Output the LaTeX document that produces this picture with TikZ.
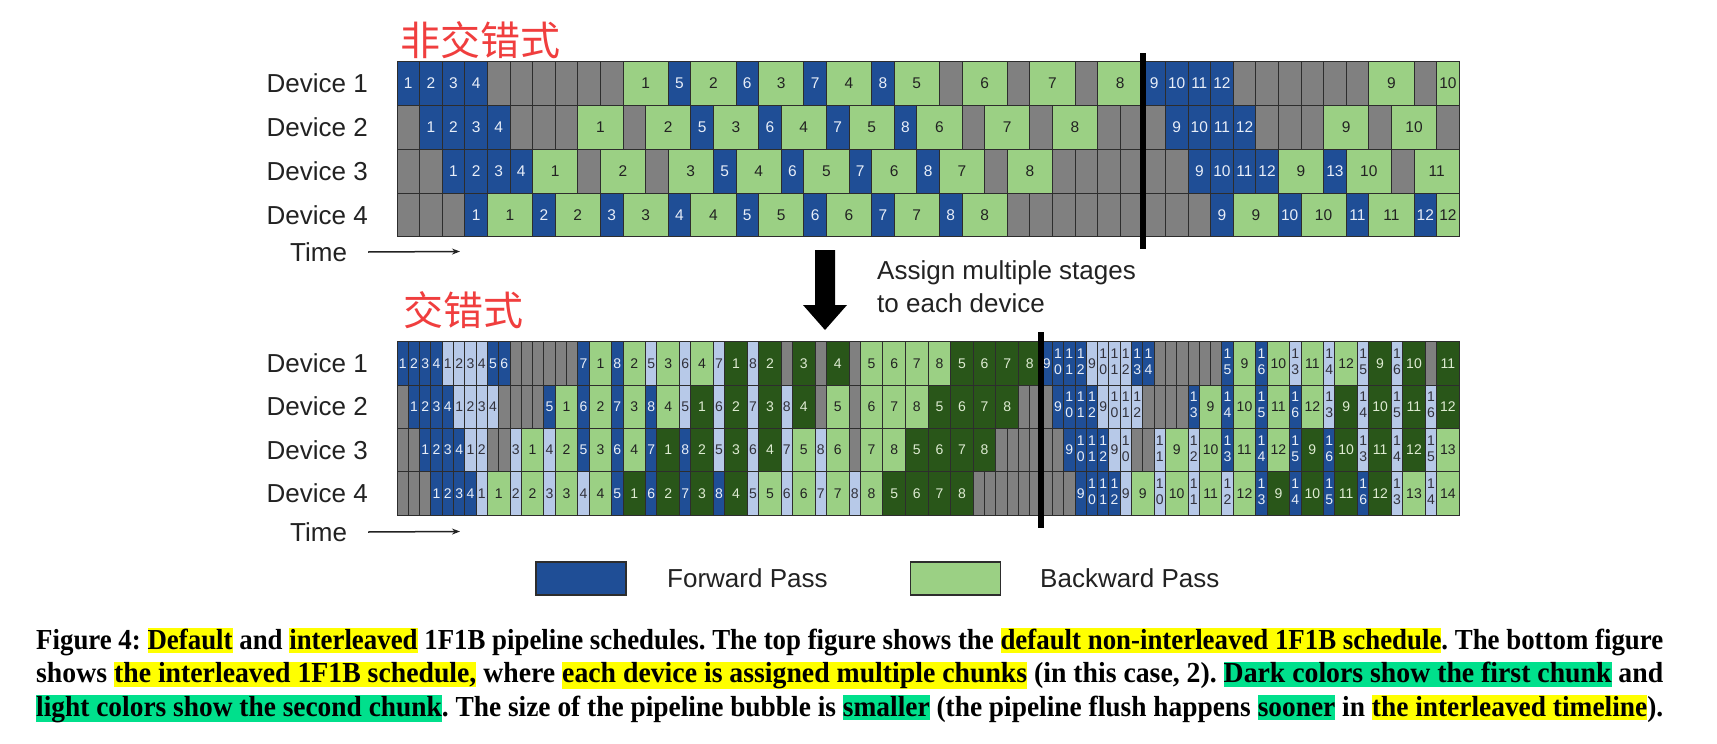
\documentclass[tikz,border=0pt]{standalone}
\usepackage{fontspec}
\setmainfont{Liberation Sans}
\newfontfamily\cjkfont{Noto Sans CJK SC}
\newfontfamily\capfont{Liberation Serif}
\usepackage{graphicx}
\usetikzlibrary{arrows.meta}
\frenchspacing

\definecolor{fblue}{RGB}{31,78,150}
\definecolor{lblue}{RGB}{183,201,232}
\definecolor{lgreen}{RGB}{155,208,132}
\definecolor{dgreen}{RGB}{41,86,25}
\definecolor{bgray}{RGB}{128,128,128}
\definecolor{cellline}{RGB}{45,45,45}
\definecolor{redlab}{RGB}{240,62,62}
\definecolor{hly}{RGB}{255,255,0}
\definecolor{hlg}{RGB}{0,224,140}
\definecolor{txtdark}{RGB}{34,34,34}
\definecolor{fbtext}{RGB}{232,238,248}
\definecolor{lbtext}{RGB}{50,50,60}
\definecolor{dgtext}{RGB}{222,235,210}

\newcommand\sk[2]{\raisebox{-2pt}{\begin{tabular}{@{}c@{}}#1\\#2\end{tabular}}}
\newcommand\hy[1]{{\setlength{\fboxsep}{0pt}\colorbox{hly}{\rule[-0.14em]{0pt}{0.86em}#1}}}
\newcommand\hg[1]{{\setlength{\fboxsep}{0pt}\colorbox{hlg}{\rule[-0.14em]{0pt}{0.86em}#1}}}

\makeatletter
\def\sch@g{g}
\tikzset{cellsel/.code={\edef\sch@tmp{cell-#1}\expandafter\pgfkeysalso\expandafter{\sch@tmp}}}
% #1 name, #2 x0, #3 ytop, #4 unit, #5 height, #6 font style, #7 list type/width/label
\newcommand\schedrow[7]{%
  \xdef\sch@x{#2}%
  \foreach \ctype/\cwid/\clab [count=\ci] in {#7} {%
    \pgfmathsetmacro\sch@ww{\cwid*#4}%
    \edef\sch@t{\ctype}%
    \ifx\sch@t\sch@g
      \foreach \kk in {1,...,\cwid} {%
        \pgfmathsetmacro\sch@kx{\sch@x+(\kk-1)*#4}%
        \node[cellsel=g, minimum width=#4pt, minimum height=#5pt] (#1-\ci-\kk) at (\sch@kx,#3) {};
      }%
    \else
      \node[cellsel=\ctype, #6, minimum width=\sch@ww pt, minimum height=#5pt] (#1-\ci) at (\sch@x,#3) {\clab};
    \fi
    \pgfmathsetmacro\sch@nx{\sch@x+\sch@ww}%
    \xdef\sch@x{\sch@nx}%
  }%
}
\makeatother

\begin{document}
\begin{tikzpicture}[x=1pt,y=-1pt,
  cellbase/.style={draw=cellline, line width=0.9pt, inner sep=0pt, outer sep=0pt, anchor=north west},
  topcell/.style={font=\fontsize{15.5}{17}\selectfont},
  botcell/.style={font=\fontsize{14}{16}\selectfont},
  cell-f/.style={cellbase, fill=fblue, text=fbtext},
  cell-l/.style={cellbase, fill=lblue, text=lbtext},
  cell-b/.style={cellbase, fill=lgreen, text=txtdark},
  cell-d/.style={cellbase, fill=dgreen, text=dgtext},
  cell-g/.style={cellbase, fill=bgray},
  devlab/.style={anchor=east, inner sep=0pt, font=\fontsize{26}{30}\selectfont, text=txtdark},
  timelab/.style={anchor=west, inner sep=0pt, font=\fontsize{26}{30}\selectfont, text=txtdark},
  timearrow/.style={draw=txtdark, line width=1.5pt, -{Stealth[length=8pt,width=6pt]}},
  cjklab/.style={anchor=west, inner sep=0pt, font=\cjkfont\fontsize{40}{44}\selectfont, text=redlab},
  note/.style={anchor=base west, inner sep=0pt, font=\fontsize{26}{30}\selectfont, text=txtdark},
  leglab/.style={anchor=west, inner sep=0pt, font=\fontsize{26}{30}\selectfont, text=txtdark},
  legbox/.style={draw=cellline, line width=1.2pt, minimum width=90pt, minimum height=33pt, inner sep=0pt},
  capline/.style={anchor=base west, inner sep=0pt, font=\fontsize{29}{33}\capfont\bfseries},
  flushline/.style={line width=6pt, draw=black}
]
\fill[white] (0,0) rectangle (1717,744);
\useasboundingbox (0,0) rectangle (1717,744);

% titles
\node[cjklab] (lab-top) at (400,40.5) {非交错式};
\node[cjklab] (lab-bot) at (403,310) {交错式};

% device labels
\foreach \r/\yy in {1/83.6,2/127.3,3/171.1,4/214.8}
  \node[devlab] (dt\r) at (368,\yy) {Device \r};
\foreach \r/\yy in {1/363.4,2/406.7,3/450.0,4/493.4}
  \node[devlab] (db\r) at (368,\yy) {Device \r};

% time arrows
\node[timelab] (time1) at (290,252) {Time};
\coordinate (tend1) at (460,251.5);
\draw[timearrow] (time1.east) ++(21,0) -- (tend1);
\node[timelab] (time2) at (290,532) {Time};
\coordinate (tend2) at (460,531.5);
\draw[timearrow] (time2.east) ++(21,0) -- (tend2);

% ---------- top schedule ----------
\schedrow{t1}{397}{61.7}{22.6}{43.75}{topcell}{f/1/1,f/1/2,f/1/3,f/1/4,g/6/{},b/2/1,f/1/5,b/2/2,f/1/6,b/2/3,f/1/7,b/2/4,f/1/8,b/2/5,g/1/{},b/2/6,g/1/{},b/2/7,g/1/{},b/2/8,f/1/9,f/1/10,f/1/11,f/1/12,g/6/{},b/2/9,g/1/{},b/1/10}
\schedrow{t2}{397}{105.45}{22.6}{43.75}{topcell}{g/1/{},f/1/1,f/1/2,f/1/3,f/1/4,g/3/{},b/2/1,g/1/{},b/2/2,f/1/5,b/2/3,f/1/6,b/2/4,f/1/7,b/2/5,f/1/8,b/2/6,g/1/{},b/2/7,g/1/{},b/2/8,g/3/{},f/1/9,f/1/10,f/1/11,f/1/12,g/3/{},b/2/9,g/1/{},b/2/10,g/1/{}}
\schedrow{t3}{397}{149.2}{22.6}{43.75}{topcell}{g/2/{},f/1/1,f/1/2,f/1/3,f/1/4,b/2/1,g/1/{},b/2/2,g/1/{},b/2/3,f/1/5,b/2/4,f/1/6,b/2/5,f/1/7,b/2/6,f/1/8,b/2/7,g/1/{},b/2/8,g/6/{},f/1/9,f/1/10,f/1/11,f/1/12,b/2/9,f/1/13,b/2/10,g/1/{},b/2/11}
\schedrow{t4}{397}{192.95}{22.6}{43.75}{topcell}{g/3/{},f/1/1,b/2/1,f/1/2,b/2/2,f/1/3,b/2/3,f/1/4,b/2/4,f/1/5,b/2/5,f/1/6,b/2/6,f/1/7,b/2/7,f/1/8,b/2/8,g/9/{},f/1/9,b/2/9,f/1/10,b/2/10,f/1/11,b/2/11,f/1/12,b/1/12}

% ---------- bottom schedule ----------
\schedrow{b1}{397}{341.7}{11.3}{43.33}{botcell}{f/1/1,f/1/2,f/1/3,f/1/4,l/1/1,l/1/2,l/1/3,l/1/4,f/1/5,f/1/6,g/6/{},f/1/7,b/2/1,f/1/8,b/2/2,l/1/5,b/2/3,l/1/6,b/2/4,l/1/7,d/2/1,l/1/8,d/2/2,g/1/{},d/2/3,g/1/{},d/2/4,g/1/{},b/2/5,b/2/6,b/2/7,b/2/8,d/2/5,d/2/6,d/2/7,d/2/8,f/1/9,f/1/{\sk10},f/1/{\sk11},f/1/{\sk12},l/1/9,l/1/{\sk10},l/1/{\sk11},l/1/{\sk12},f/1/{\sk13},f/1/{\sk14},g/6/{},f/1/{\sk15},b/2/9,f/1/{\sk16},b/2/10,l/1/{\sk13},b/2/11,l/1/{\sk14},b/2/12,l/1/{\sk15},d/2/9,l/1/{\sk16},d/2/10,g/1/{},d/2/11}
\schedrow{b2}{397}{385.03}{11.3}{43.33}{botcell}{g/1/{},f/1/1,f/1/2,f/1/3,f/1/4,l/1/1,l/1/2,l/1/3,l/1/4,g/4/{},f/1/5,b/2/1,f/1/6,b/2/2,f/1/7,b/2/3,f/1/8,b/2/4,l/1/5,d/2/1,l/1/6,d/2/2,l/1/7,d/2/3,l/1/8,d/2/4,g/1/{},b/2/5,g/1/{},b/2/6,b/2/7,b/2/8,d/2/5,d/2/6,d/2/7,d/2/8,g/3/{},f/1/9,f/1/{\sk10},f/1/{\sk11},f/1/{\sk12},l/1/9,l/1/{\sk10},l/1/{\sk11},l/1/{\sk12},g/4/{},f/1/{\sk13},b/2/9,f/1/{\sk14},b/2/10,f/1/{\sk15},b/2/11,f/1/{\sk16},b/2/12,l/1/{\sk13},d/2/9,l/1/{\sk14},d/2/10,l/1/{\sk15},d/2/11,l/1/{\sk16},d/2/12}
\schedrow{b3}{397}{428.37}{11.3}{43.33}{botcell}{g/2/{},f/1/1,f/1/2,f/1/3,f/1/4,l/1/1,l/1/2,g/2/{},l/1/3,b/2/1,l/1/4,b/2/2,f/1/5,b/2/3,f/1/6,b/2/4,f/1/7,d/2/1,f/1/8,d/2/2,l/1/5,d/2/3,l/1/6,d/2/4,l/1/7,b/2/5,l/1/8,b/2/6,g/1/{},b/2/7,b/2/8,d/2/5,d/2/6,d/2/7,d/2/8,g/6/{},f/1/9,f/1/{\sk10},f/1/{\sk11},f/1/{\sk12},l/1/9,l/1/{\sk10},g/2/{},l/1/{\sk11},b/2/9,l/1/{\sk12},b/2/10,f/1/{\sk13},b/2/11,f/1/{\sk14},b/2/12,f/1/{\sk15},d/2/9,f/1/{\sk16},d/2/10,l/1/{\sk13},d/2/11,l/1/{\sk14},d/2/12,l/1/{\sk15},b/2/13}
\schedrow{b4}{397}{471.7}{11.3}{43.33}{botcell}{g/3/{},f/1/1,f/1/2,f/1/3,f/1/4,l/1/1,b/2/1,l/1/2,b/2/2,l/1/3,b/2/3,l/1/4,b/2/4,f/1/5,d/2/1,f/1/6,d/2/2,f/1/7,d/2/3,f/1/8,d/2/4,l/1/5,b/2/5,l/1/6,b/2/6,l/1/7,b/2/7,l/1/8,b/2/8,d/2/5,d/2/6,d/2/7,d/2/8,g/9/{},f/1/9,f/1/{\sk10},f/1/{\sk11},f/1/{\sk12},l/1/9,b/2/9,l/1/{\sk10},b/2/10,l/1/{\sk11},b/2/11,l/1/{\sk12},b/2/12,f/1/{\sk13},d/2/9,f/1/{\sk14},d/2/10,f/1/{\sk15},d/2/11,f/1/{\sk16},d/2/12,l/1/{\sk13},b/2/13,l/1/{\sk14},b/2/14}

% flush lines
\coordinate (fl1a) at (1143,53);
\coordinate (fl1b) at (1143,249);
\draw[flushline] (fl1a) -- (fl1b);
\coordinate (fl2a) at (1041,332);
\coordinate (fl2b) at (1041,528);
\draw[flushline] (fl2a) -- (fl2b);

% big arrow
\fill[black] (815,250) -- (835,250) -- (835,305) -- (847,305) -- (825,330) -- (803,305) -- (815,305) -- cycle;
\node[note] (asg1) at (877,279.5) {Assign multiple stages};
\node[note] (asg2) at (877,312) {to each device};

% legend
\node[legbox, fill=fblue] (leg-f) at (581,578.5) {};
\node[leglab] (leg-ft) at (667,578) {Forward Pass};
\node[legbox, fill=lgreen] (leg-b) at (955.5,578.5) {};
\node[leglab] (leg-bt) at (1040,578) {Backward Pass};

% caption
\node[capline] (cap1) at (36,649) {\resizebox{1627pt}{\height}{Figure 4: \hy{Default} and \hy{interleaved} 1F1B pipeline schedules. The top figure shows the \hy{default non-interleaved 1F1B schedule}. The bottom figure}};
\node[capline] (cap2) at (36,682.5) {\resizebox{1627pt}{\height}{shows \hy{the interleaved 1F1B schedule,} where \hy{each device is assigned multiple chunks} (in this case, 2). \hg{Dark colors show the first chunk} and}};
\node[capline] (cap3) at (36,716) {\resizebox{1627pt}{\height}{\hg{light colors show the second chunk}. The size of the pipeline bubble is \hg{smaller} (the pipeline flush happens \hg{sooner} in \hy{the interleaved timeline}).}};
\end{tikzpicture}
\end{document}
